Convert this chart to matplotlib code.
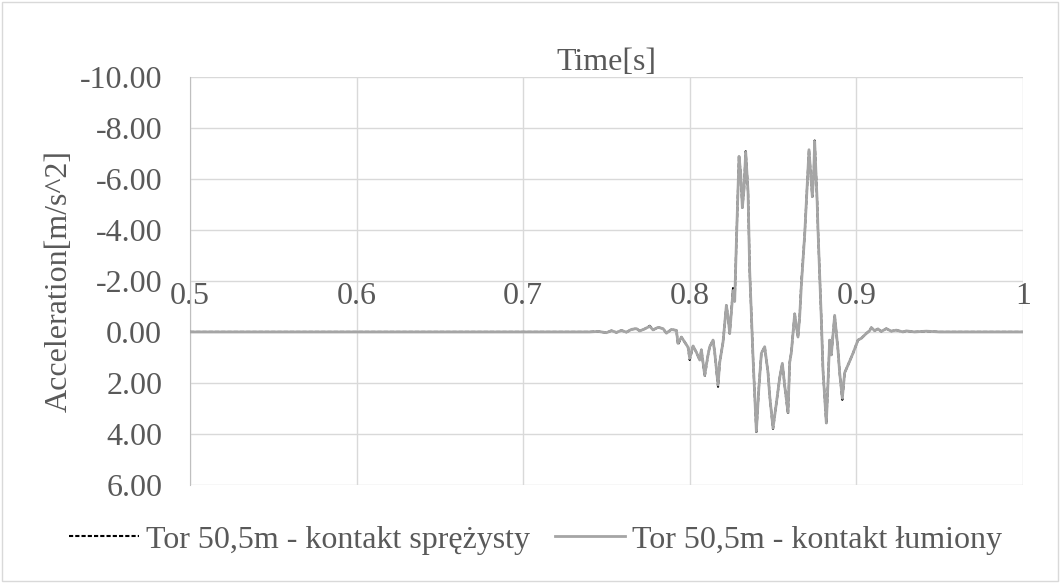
import matplotlib
matplotlib.use('Agg')
import matplotlib.pyplot as plt
from matplotlib.patches import Rectangle

# time [s] and acceleration [m/s^2]
time = [0.500, 0.740, 0.745, 0.750, 0.753, 0.756, 0.759, 0.762, 0.765, 0.768,
        0.770, 0.773, 0.776, 0.778, 0.781, 0.784, 0.786, 0.789, 0.792, 0.793,
        0.795, 0.797, 0.799, 0.800, 0.802, 0.804, 0.806, 0.807, 0.809, 0.811,
        0.812, 0.814, 0.815, 0.817, 0.818, 0.820, 0.822, 0.823, 0.824, 0.826,
        0.827, 0.828, 0.8296, 0.8306, 0.8316, 0.8326, 0.8336, 0.835, 0.836, 0.838,
        0.840, 0.8415, 0.843, 0.845, 0.847, 0.848, 0.850, 0.852, 0.854, 0.8556,
        0.857, 0.859, 0.860, 0.861, 0.863, 0.865, 0.866, 0.867, 0.869, 0.8716,
        0.8726, 0.8736, 0.8745, 0.875, 0.8765, 0.877, 0.879, 0.880, 0.882, 0.883,
        0.884, 0.885, 0.887, 0.889, 0.890, 0.8916, 0.893, 0.895, 0.898, 0.901,
        0.903, 0.906, 0.908, 0.909, 0.911, 0.913, 0.915, 0.918, 0.921, 0.924,
        0.928, 0.930, 0.935, 0.942, 0.950, 1.000]

acc_damped = [0.00, 0.00, -0.02, 0.03, -0.05, 0.02, -0.06, 0.01, -0.10, -0.13,
              -0.04, -0.12, -0.22, -0.08, -0.18, -0.13, 0.05, -0.10, -0.06, 0.45,
              0.20, 0.40, 0.60, 1.04, 0.55, 0.80, 1.10, 0.70, 1.69, 0.90,
              0.58, 0.32, 0.80, 2.08, 1.20, 0.40, -1.04, -0.60, 0.06, -1.62,
              -1.20, -3.50, -6.88, -6.20, -4.87, -5.60, -7.05, -5.50, -2.40, 1.00,
              3.90, 2.20, 0.84, 0.58, 1.60, 2.50, 3.77, 2.80, 1.80, 1.23,
              2.10, 3.16, 1.20, 0.80, -0.71, 0.20, -0.60, -1.82, -3.80, -7.14,
              -6.20, -5.30, -6.30, -7.47, -5.10, -4.00, -0.50, 1.50, 3.57, 2.00,
              0.32, 0.90, -0.65, 0.70, 1.60, 2.60, 1.60, 1.30, 0.84, 0.32,
              0.25, 0.06, -0.05, -0.17, -0.05, -0.12, -0.02, -0.13, -0.03, -0.07,
              0.00, -0.04, 0.00, -0.03, 0.00, 0.00]

acc_spring = [0.00, 0.00, -0.02, 0.03, -0.05, 0.02, -0.06, 0.01, -0.10, -0.13,
              -0.04, -0.12, -0.24, -0.08, -0.18, -0.13, 0.05, -0.10, -0.06, 0.50,
              0.20, 0.40, 0.60, 1.10, 0.55, 0.80, 1.10, 0.70, 1.75, 0.90,
              0.58, 0.32, 0.80, 2.15, 1.20, 0.40, -1.04, -0.60, 0.06, -1.72,
              -1.20, -3.50, -6.90, -6.20, -4.87, -5.60, -7.08, -5.50, -2.40, 1.00,
              3.92, 2.20, 0.84, 0.58, 1.60, 2.50, 3.80, 2.80, 1.80, 1.23,
              2.10, 3.22, 1.20, 0.80, -0.71, 0.20, -0.60, -1.95, -3.80, -7.14,
              -6.20, -5.30, -6.30, -7.50, -5.10, -4.00, -0.50, 1.50, 3.60, 2.00,
              0.32, 0.90, -0.65, 0.70, 1.60, 2.66, 1.60, 1.30, 0.84, 0.32,
              0.25, 0.06, -0.05, -0.17, -0.05, -0.12, -0.02, -0.13, -0.03, -0.07,
              0.00, -0.04, 0.00, -0.03, 0.00, 0.00]

x_ticks = [0.5, 0.6, 0.7, 0.8, 0.9, 1.0]
x_labels = ['0.5', '0.6', '0.7', '0.8', '0.9', '1']
y_ticks = [-10, -8, -6, -4, -2, 0, 2, 4, 6]

plt.rcParams['font.family'] = ['Liberation Serif', 'DejaVu Serif']
txt = '#595959'
fs = 23

fig = plt.figure(figsize=(10.6, 5.83), dpi=100)
fig.patches.append(Rectangle((0.002, 0.003), 0.996, 0.994, transform=fig.transFigure,
                             fill=False, edgecolor='#D9D9D9', linewidth=1))
ax = fig.add_axes([0.1792, 0.168, 0.7858, 0.7004])

ax.plot(time, acc_spring, color='black', linestyle=(0, (2, 1)), linewidth=1.5,
        label='Tor 50,5m - kontakt sprężysty', zorder=3)
ax.plot(time, acc_damped, color='#A5A5A5', linewidth=2.0,
        label='Tor 50,5m - kontakt łumiony', zorder=4)

ax.set_xlim(0.5, 1.0)
ax.set_ylim(6, -10)
ax.set_xticks(x_ticks)
ax.set_xticklabels(x_labels)
ax.set_yticks(y_ticks)
ax.set_yticklabels(['%.2f' % v for v in y_ticks])
ax.grid(True, color='#D9D9D9', linewidth=1)
ax.set_axisbelow(True)

for s in ['top', 'right']:
    ax.spines[s].set_visible(False)
ax.spines['bottom'].set_position(('data', -2))
ax.spines['bottom'].set_visible(False)
ax.spines['left'].set_color('#BFBFBF')
ax.tick_params(axis='both', length=0, labelsize=fs, colors=txt)
ax.tick_params(axis='x', pad=1)
ax.tick_params(axis='y', pad=20)

ax.set_title('Time[s]', fontsize=fs, color=txt, pad=4)
ax.set_ylabel('Acceleration[m/s^2]', fontsize=fs, color=txt, labelpad=4)

fig.legend(loc='center', bbox_to_anchor=(0.505, 0.074), ncol=2, frameon=False,
           fontsize=fs, labelcolor=txt, handlelength=2.2, handletextpad=0.2,
           columnspacing=0.8)

fig.savefig('out.png', dpi=100)
